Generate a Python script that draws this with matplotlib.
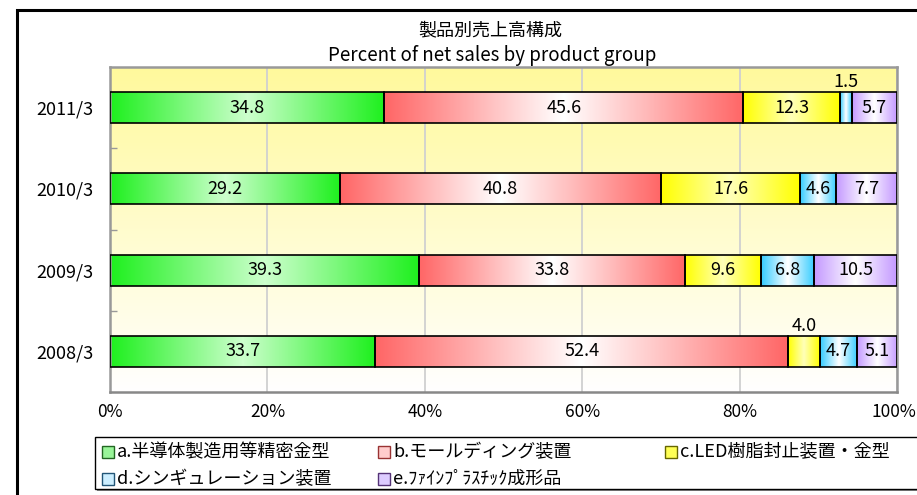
import numpy as np
import matplotlib
matplotlib.use("Agg")
import matplotlib.pyplot as plt
from matplotlib.colors import LinearSegmentedColormap
from matplotlib.patches import Rectangle

plt.rcParams['font.family'] = ['Noto Sans CJK JP', 'DejaVu Sans']

# ---------------- data ----------------
years = ['2011/3', '2010/3', '2009/3', '2008/3']
seg_a = [34.8, 29.2, 39.3, 33.7]   # a. semiconductor precision molds
seg_b = [45.6, 40.8, 33.8, 52.4]   # b. molding equipment
seg_c = [12.3, 17.6, 9.6, 4.0]     # c. LED encapsulation
seg_d = [1.5, 4.6, 6.8, 4.7]       # d. singulation
seg_e = [5.7, 7.7, 10.5, 5.1]      # e. fine plastic products
series_labels = ['a.半導体製造用等精密金型', 'b.モールディング装置', 'c.LED樹脂封止装置・金型',
                 'd.シンギュレーション装置', 'e.ﾌｧｲﾝﾌﾟﾗｽﾁｯｸ成形品']
xtick_vals = [0, 20, 40, 60, 80, 100]
xtick_labels = ['0%', '20%', '40%', '60%', '80%', '100%']
title_jp = '製品別売上高構成'
title_en = 'Percent of net sales by product group'

# ---------------- styles ----------------
grad_colors = [
    ('#1EF01E', '#CCFFCC'),
    ('#FF6666', '#FFFFFF'),
    ('#FFFF00', '#FFFFB8'),
    ('#33CCFF', '#FFFFFF'),
    ('#C499FF', '#FFFFFF'),
]
swatch_colors = [
    ('#99F599', '#226622'),
    ('#FFCCCC', '#993333'),
    ('#FFFF55', '#666600'),
    ('#CCEEFF', '#225577'),
    ('#DDCCFF', '#553377'),
]

W, H = 917, 495
fig = plt.figure(figsize=(W / 100, H / 100), dpi=100)


def fx(px):
    return px / W


def fy(py):
    return 1 - py / H


ax_l, ax_r, ax_t, ax_b = 110, 897, 67, 392
ax = fig.add_axes([fx(ax_l), fy(ax_b), fx(ax_r - ax_l), (ax_b - ax_t) / H])

# background vertical gradient
bg_cmap = LinearSegmentedColormap.from_list('bg', ['#FFF99C', '#FFFFFF'])
bg = np.linspace(0, 1, 256).reshape(-1, 1)
ax.imshow(bg, extent=[0, 1, 0, 1], transform=ax.transAxes, aspect='auto',
          cmap=bg_cmap, zorder=0, interpolation='bilinear')

series = [seg_a, seg_b, seg_c, seg_d, seg_e]
data = np.array(series, dtype=float)          # shape (5, 4)
totals = data.sum(axis=0)
pct = data / totals * 100
lefts = np.vstack([np.zeros(len(years)), np.cumsum(pct, axis=0)[:-1]])
ypos = np.arange(len(years))
bh = 0.38

grad = np.concatenate([np.linspace(0, 1, 128), np.linspace(1, 0, 128)]).reshape(1, -1)
for i, vals in enumerate(series):
    cmap = LinearSegmentedColormap.from_list(f'g{i}', [grad_colors[i][0], grad_colors[i][1]])
    bars = ax.barh(ypos, pct[i], left=lefts[i], height=bh, facecolor='none',
                   edgecolor='black', linewidth=1.2, zorder=3)
    for j, bar in enumerate(bars):
        x0, y0 = bar.get_x(), bar.get_y()
        w, h = bar.get_width(), bar.get_height()
        ax.imshow(grad, extent=[x0, x0 + w, y0 + h, y0], cmap=cmap, aspect='auto',
                  zorder=2, interpolation='bilinear', vmin=0, vmax=1)
        v = vals[j]
        cx = x0 + w / 2
        if v <= 4.0:
            ax.annotate(f'{v:.1f}', (cx, y0), xytext=(0, 0.5), textcoords='offset points',
                        ha='center', va='bottom', fontsize=13, zorder=5)
        else:
            ax.text(cx, y0 + h / 2, f'{v:.1f}', ha='center', va='center',
                    fontsize=13, zorder=5)

ax.set_xlim(0, 100)
ax.set_ylim(len(years) - 0.5, -0.5)
ax.set_aspect('auto')
ax.set_xticks(xtick_vals)
# the last label is drawn separately so that it stays inside the picture
ax.set_xticklabels(xtick_labels[:-1] + [''], fontsize=12.5)
ax.annotate(xtick_labels[-1], xy=(1, 0), xycoords='axes fraction',
            xytext=(19 * 0.72, -8), textcoords='offset points',
            ha='right', va='top', fontsize=12.5, annotation_clip=False)
ax.set_yticks(ypos)
ax.set_yticklabels(years, fontsize=13)
ax.set_yticks(np.arange(len(years) - 1) + 0.5, minor=True)
ax.tick_params(axis='y', which='major', length=0, pad=12)
ax.tick_params(axis='y', which='minor', direction='in', length=5, color='#999999', width=1)
ax.tick_params(axis='x', length=0, pad=8)
ax.xaxis.grid(True, color='#D0D0D0', linewidth=1.3)
ax.set_axisbelow(True)
for s in ax.spines.values():
    s.set_color('#999999')
    s.set_linewidth(1.8)
ax.spines['bottom'].set_color('#888888')

# titles
fig.text(fx(490), fy(30), title_jp, ha='center', va='center', fontsize=13)
fig.text(fx(492), fy(55), title_en, ha='center', va='center', fontsize=13.5)

# outer frame
fig.add_artist(Rectangle((fx(17), fy(520)), fx(930 - 17), (520 - 10) / H,
                         transform=fig.transFigure, fill=False, edgecolor='black',
                         linewidth=2.2))

# legend box (with shadow)
lg_l, lg_t, lg_b, lg_r = 95, 437, 489, 940
fig.add_artist(Rectangle((fx(lg_l + 2), fy(lg_b + 2)), fx(lg_r - lg_l), (lg_b - lg_t) / H,
                         transform=fig.transFigure, facecolor='#888888', edgecolor='none'))
fig.add_artist(Rectangle((fx(lg_l), fy(lg_b)), fx(lg_r - lg_l), (lg_b - lg_t) / H,
                         transform=fig.transFigure, facecolor='white', edgecolor='black',
                         linewidth=1.0))
leg_pos = [(102, 452), (378, 452), (665, 452), (102, 479), (378, 479)]
sw = 12
for i, (px, py) in enumerate(leg_pos):
    fig.add_artist(Rectangle((fx(px), fy(py + sw / 2)), sw / W, sw / H,
                             transform=fig.transFigure, facecolor=swatch_colors[i][0],
                             edgecolor=swatch_colors[i][1], linewidth=1.0))
    fig.text(fx(px + sw + 3), fy(py), series_labels[i], ha='left', va='center', fontsize=13)

fig.savefig('out.png', dpi=100)
